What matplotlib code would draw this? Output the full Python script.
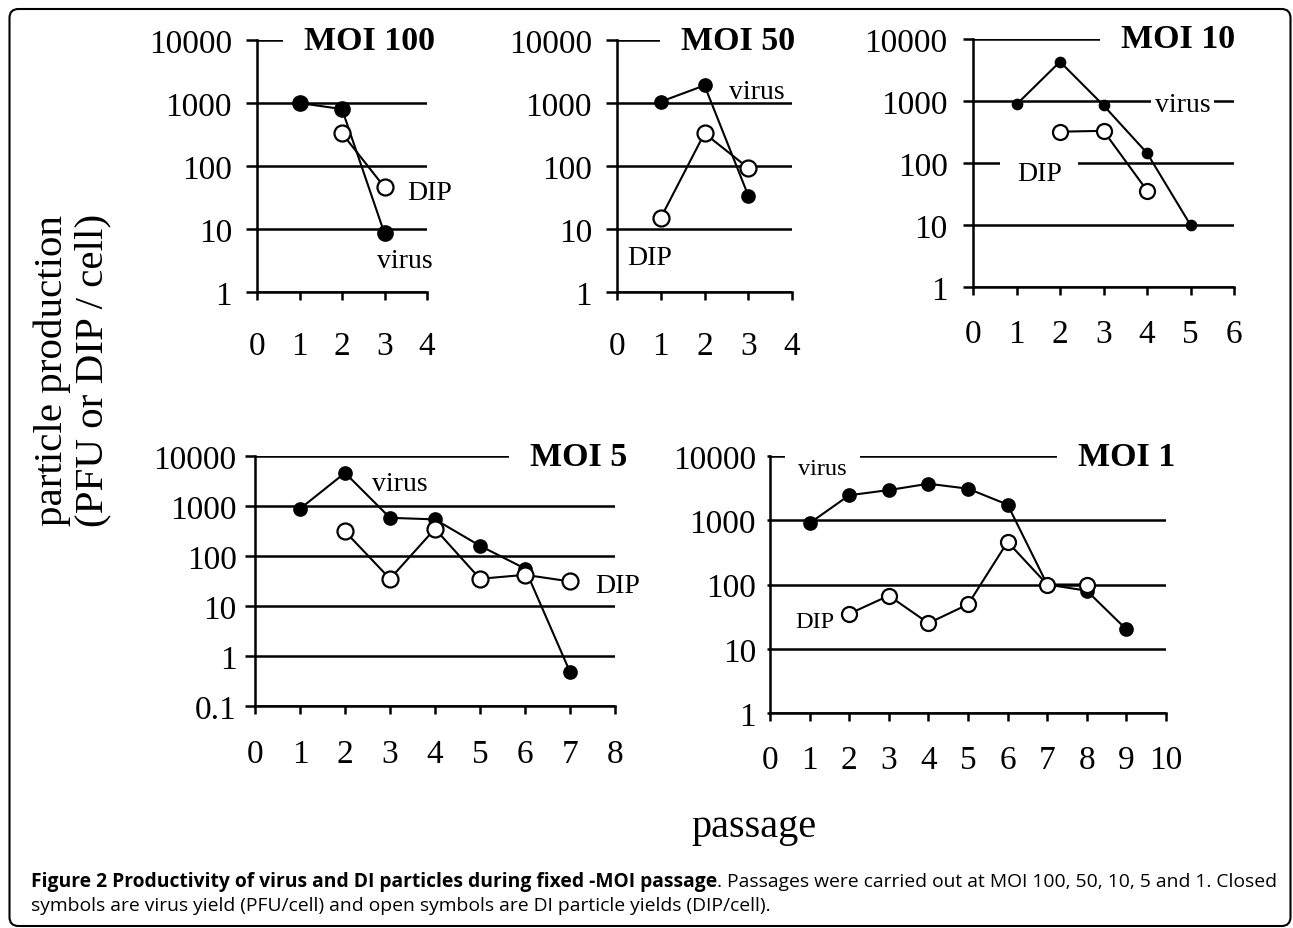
import matplotlib
matplotlib.use('Agg')
import matplotlib.pyplot as plt
import matplotlib.patches as mpatches
from matplotlib.ticker import FixedLocator, FuncFormatter, NullLocator
from matplotlib.transforms import IdentityTransform

W, H = 1293, 929
fig = plt.figure(figsize=(W / 100, H / 100), dpi=100)
SERIF = ['Liberation Serif', 'DejaVu Serif']
SANS = ['Open Sans', 'DejaVu Sans']

# ---------------- data ----------------
titles = ['MOI 100', 'MOI 50', 'MOI 10', 'MOI 5', 'MOI 1']

virus_x_100 = [1, 2, 3]
virus_y_100 = [1000, 800, 8.5]
dip_x_100 = [2, 3]
dip_y_100 = [330, 46]

virus_x_50 = [1, 2, 3]
virus_y_50 = [1050, 1900, 34]
dip_x_50 = [1, 2, 3]
dip_y_50 = [15, 330, 93]

virus_x_10 = [1, 2, 3, 4, 5]
virus_y_10 = [880, 4300, 850, 145, 10]
dip_x_10 = [2, 3, 4]
dip_y_10 = [320, 330, 36]

virus_x_5 = [1, 2, 3, 4, 5, 6, 7]
virus_y_5 = [880, 4600, 580, 540, 160, 56, 0.48]
dip_x_5 = [2, 3, 4, 5, 6, 7]
dip_y_5 = [310, 35, 350, 35, 42, 31]

virus_x_1 = [1, 2, 3, 4, 5, 6, 7, 8, 9]
virus_y_1 = [900, 2450, 2950, 3700, 3100, 1750, 100, 80, 20]
dip_x_1 = [2, 3, 4, 5, 6, 7, 8]
dip_y_1 = [35, 67, 25, 49, 460, 100, 100]

x_max = [4, 4, 6, 8, 10]
y_min = [1, 1, 1, 0.1, 1]

# series labels: (x, y) per panel
virus_label_pos = [(2.82, 2.5), (2.56, 1180), (4.18, 680), (2.6, 2100), (0.71, 5300)]
dip_label_pos = [(3.53, 30), (0.23, 2.8), (1.01, 54), (7.56, 19), (0.63, 21.7)]

# ---------------- layout (pixels) ----------------
rects = [  # x0, x1, ytop, ybottom
    (257, 427, 41, 293),
    (617, 792, 41, 293),
    (973, 1234, 40, 288),
    (255, 615, 457, 707),
    (770, 1166, 457, 714),
]
title_over = [8, 3, 1, 12, 9]
virus_ms = [15, 13, 10, 13, 13]
dip_ms = [16, 16, 15, 16, 15]
label_fs = [20, 20, 20, 20, 17.5]
ytick_len = [11, 11, 10, 10, 3]
ytick_pad = [10, 10, 11, 6, 8]
xtick_pad = [22, 22, 17, 18, 17]
virus_box = [False, False, True, False, True]
dip_box = [False, False, True, False, False]

series = [
    (virus_x_100, virus_y_100, dip_x_100, dip_y_100),
    (virus_x_50, virus_y_50, dip_x_50, dip_y_50),
    (virus_x_10, virus_y_10, dip_x_10, dip_y_10),
    (virus_x_5, virus_y_5, dip_x_5, dip_y_5),
    (virus_x_1, virus_y_1, dip_x_1, dip_y_1),
]

PX = 0.72  # points per pixel at dpi 100
fmt = FuncFormatter(lambda v, p: f'{v:g}')

for i in range(5):
    x0, x1, yt, yb = rects[i]
    ax = fig.add_axes([x0 / W, 1 - yb / H, (x1 - x0) / W, (yb - yt) / H])
    ax.set_yscale('log')
    ax.set_xlim(0, x_max[i])
    ax.set_ylim(y_min[i], 10000)
    ax.set_axisbelow(True)
    for s in ['top', 'right']:
        ax.spines[s].set_visible(False)
    for s in ['left', 'bottom']:
        ax.spines[s].set_linewidth(1.8)
    if y_min[i] < 1:
        decades = [0.1, 1, 10, 100, 1000, 10000]
    else:
        decades = [1, 10, 100, 1000, 10000]
    ax.yaxis.set_major_locator(FixedLocator(decades))
    ax.yaxis.set_minor_locator(NullLocator())
    ax.yaxis.set_major_formatter(fmt)
    ax.xaxis.set_major_locator(FixedLocator(list(range(0, x_max[i] + 1))))
    ax.grid(axis='y', color='black', linewidth=1.8)
    ax.tick_params(axis='y', direction='out', length=ytick_len[i] * PX, width=1.8,
                   pad=ytick_pad[i], labelsize=24)
    ax.tick_params(axis='x', direction='out', length=8 * PX, width=1.8,
                   pad=xtick_pad[i], labelsize=24)
    for lab in ax.get_xticklabels() + ax.get_yticklabels():
        lab.set_fontfamily(SERIF)

    vx, vy, dx, dy = series[i]
    ax.plot(vx, vy, '-', color='black', lw=1.5, marker='o', ms=virus_ms[i] * PX,
            mfc='black', mec='black', mew=1.2, clip_on=False, zorder=3)
    ax.plot(dx, dy, '-', color='black', lw=1.5, marker='o', ms=dip_ms[i] * PX,
            mfc='white', mec='black', mew=1.6, clip_on=False, zorder=4)

    # title with white backing that interrupts the top grid line
    ax.text(1.0 + title_over[i] / (x1 - x0), 1.0, titles[i], transform=ax.transAxes,
            ha='right', va='center', fontsize=24.5, fontweight='bold',
            fontfamily=SERIF, zorder=1.5,
            bbox=dict(boxstyle='square,pad=0.62', fc='white', ec='none'))

    # series labels
    kw = dict(ha='left', va='baseline', fontsize=label_fs[i], fontfamily=SERIF,
              zorder=1.5, clip_on=False)
    tx, ty = virus_label_pos[i]
    if virus_box[i]:
        pad = 0.12 if i == 2 else 0.55
        ax.text(tx, ty, 'virus', bbox=dict(boxstyle=f'square,pad={pad}', fc='white', ec='none'), **kw)
    else:
        ax.text(tx, ty, 'virus', **kw)
    tx, ty = dip_label_pos[i]
    if dip_box[i]:
        ax.text(tx, ty, 'DIP', bbox=dict(boxstyle='square,pad=0.6', fc='white', ec='none'), **kw)
    else:
        ax.text(tx, ty, 'DIP', **kw)

# axis labels
fig.text(72 / W, 1 - 370 / H, 'particle production\n(PFU or DIP / cell)', rotation=90,
         ha='center', va='center', fontsize=29.5, fontfamily=SERIF, linespacing=1.12)
fig.text(754 / W, 1 - 828 / H, 'passage', ha='center', va='center', fontsize=29,
         fontfamily=SERIF)

# caption
cap_fs = 13.9
t1 = fig.text(31 / W, 42 / H, 'Figure 2 Productivity of virus and DI particles during fixed -MOI passage',
              ha='left', va='baseline', fontsize=cap_fs, fontweight='bold', fontfamily=SANS)
renderer = fig.canvas.get_renderer()
bb = t1.get_window_extent(renderer=renderer)
fig.text(bb.x1 / W, 42 / H, '. Passages were carried out at MOI 100, 50, 10, 5 and 1. Closed',
         ha='left', va='baseline', fontsize=cap_fs, fontfamily=SANS)
fig.text(31 / W, 18 / H, 'symbols are virus yield (PFU/cell) and open symbols are DI particle yields (DIP/cell).',
         ha='left', va='baseline', fontsize=cap_fs, fontfamily=SANS)

# rounded border
border = mpatches.FancyBboxPatch((9.5, 2), 1281, 917, boxstyle='round,pad=0,rounding_size=9',
                                 transform=IdentityTransform(), fc='none', ec='black', lw=1.5)
fig.patches.append(border)

fig.savefig('out.png', dpi=100)
